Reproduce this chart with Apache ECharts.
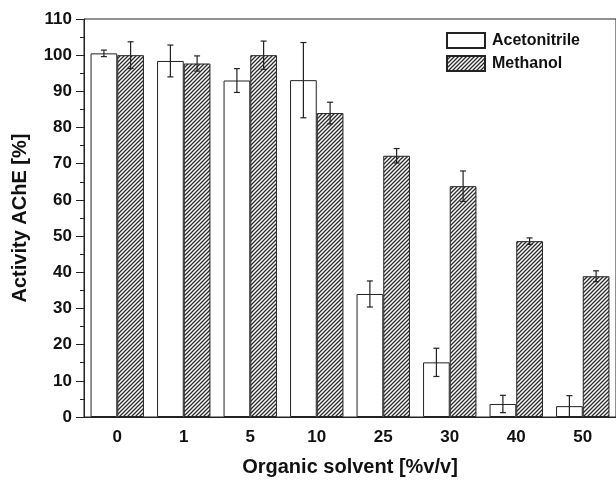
<!DOCTYPE html>
<html>
<head>
<meta charset="utf-8">
<script src="https://cdn.jsdelivr.net/npm/echarts@6/dist/echarts.min.js"></script>
<style>
  html, body { margin: 0; padding: 0; background: #fff; }
  #chart { width: 616px; height: 482px; }
</style>
</head>
<body>
<div id="chart"></div>
<script>
var categories = ['0', '1', '5', '10', '25', '30', '40', '50']
var acetonitrile = [100.5, 98.4, 93.0, 93.1, 34.0, 15.1, 3.6, 3.0]
var acetonitrileErr = [0.9, 4.4, 3.3, 10.4, 3.6, 3.9, 2.4, 2.9]
var methanol = [100.0, 97.7, 100.0, 84.0, 72.2, 63.8, 48.6, 38.9]
var methanolErr = [3.7, 2.1, 3.9, 3.0, 2.0, 4.2, 0.9, 1.5]

var FONT = 'Liberation Sans, Arial, sans-serif'
var BAR_W = 26.7

// diagonal hatch for methanol
function makeHatch () {
  var c = document.createElement('canvas')
  c.width = 4
  c.height = 4
  var ctx = c.getContext('2d')
  ctx.fillStyle = '#fff'
  ctx.fillRect(0, 0, 4, 4)
  ctx.strokeStyle = '#2a2a2a'
  ctx.lineWidth = 1.3
  ctx.beginPath()
  ctx.moveTo(-1, 5); ctx.lineTo(5, -1)
  ctx.moveTo(-1, 1); ctx.lineTo(1, -1)
  ctx.moveTo(3, 5); ctx.lineTo(5, 3)
  ctx.stroke()
  return c
}
var hatch = { image: makeHatch(), repeat: 'repeat' }

function errData (vals, errs) {
  return vals.map(function (v, i) { return [i, v - errs[i], v + errs[i]] })
}

function errRender (side) {
  return function (params, api) {
    var lo = api.coord([api.value(0), api.value(1)])
    var hi = api.coord([api.value(0), api.value(2)])
    var x = lo[0] + side * BAR_W / 2
    var cap = 3
    var st = { stroke: '#222', lineWidth: 1.2 }
    return {
      type: 'group',
      children: [
        { type: 'line', shape: { x1: x, y1: hi[1], x2: x, y2: lo[1] }, style: st },
        { type: 'line', shape: { x1: x - cap, y1: hi[1], x2: x + cap, y2: hi[1] }, style: st },
        { type: 'line', shape: { x1: x - cap, y1: lo[1], x2: x + cap, y2: lo[1] }, style: st }
      ]
    }
  }
}

var chart = echarts.init(document.getElementById('chart'))
chart.setOption({
  animation: false,
  backgroundColor: '#fff',
  grid: {
    left: 84, top: 19, right: -2, bottom: 65,
    show: true, borderColor: '#222', borderWidth: 1, backgroundColor: 'transparent'
  },
  legend: {
    orient: 'vertical',
    left: 441,
    top: 27,
    itemWidth: 38,
    itemHeight: 15,
    itemGap: 6,
    icon: 'rect',
    textStyle: { fontFamily: FONT, fontWeight: 'bold', fontSize: 16, color: '#111', padding: [0, 0, 0, 2] },
    data: ['Acetonitrile', 'Methanol']
  },
  xAxis: {
    type: 'category',
    data: categories,
    name: 'Organic solvent [%v/v]',
    nameLocation: 'middle',
    nameGap: 40,
    nameTextStyle: { fontFamily: FONT, fontWeight: 'bold', fontSize: 20, color: '#111' },
    axisLine: { lineStyle: { color: '#222', width: 1 } },
    axisTick: { alignWithLabel: true, length: 8, lineStyle: { color: '#222' } },
    axisLabel: { fontFamily: FONT, fontWeight: 'bold', fontSize: 17, color: '#111', margin: 12 }
  },
  yAxis: {
    type: 'value',
    min: 0,
    max: 110,
    interval: 10,
    name: 'Activity AChE [%]',
    nameLocation: 'middle',
    nameGap: 54,
    nameTextStyle: { fontFamily: FONT, fontWeight: 'bold', fontSize: 20, color: '#111' },
    axisLine: { show: true, lineStyle: { color: '#222', width: 1 } },
    axisTick: { show: true, length: 8, lineStyle: { color: '#222' } },
    minorTick: { show: true, splitNumber: 2, length: 4, lineStyle: { color: '#222' } },
    splitLine: { show: false },
    axisLabel: { fontFamily: FONT, fontWeight: 'bold', fontSize: 17, color: '#111', margin: 12 }
  },
  series: [
    {
      name: 'Acetonitrile',
      type: 'bar',
      barWidth: BAR_W,
      barGap: '0%',
      data: acetonitrile,
      itemStyle: { color: '#fff', borderColor: '#222', borderWidth: 1 }
    },
    {
      name: 'Methanol',
      type: 'bar',
      barWidth: BAR_W,
      barGap: '0%',
      data: methanol,
      itemStyle: { color: hatch, borderColor: '#222', borderWidth: 1 }
    },
    {
      type: 'custom',
      renderItem: errRender(-1),
      data: errData(acetonitrile, acetonitrileErr),
      encode: { x: 0, y: [1, 2] },
      z: 5
    },
    {
      type: 'custom',
      renderItem: errRender(1),
      data: errData(methanol, methanolErr),
      encode: { x: 0, y: [1, 2] },
      z: 5
    }
  ]
})
</script>
</body>
</html>
